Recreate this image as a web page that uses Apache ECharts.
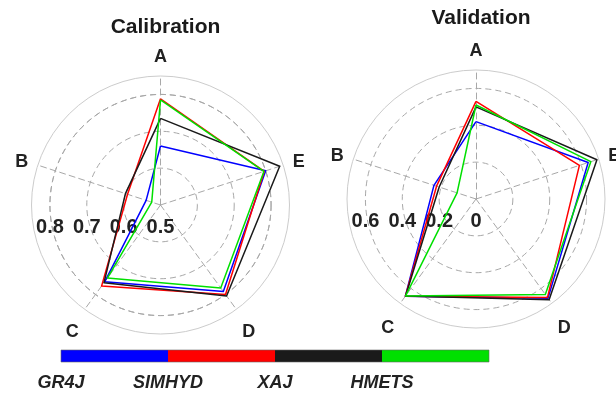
<!DOCTYPE html>
<html>
<head>
<meta charset="utf-8">
<script src="https://cdn.jsdelivr.net/npm/echarts@6/dist/echarts.min.js"></script>
<style>
  html, body { margin: 0; padding: 0; background: #ffffff; }
  #chart { width: 616px; height: 398px; }
</style>
</head>
<body>
<div id="chart"></div>
<script>
// Radar axes (counter-clockwise from the top)
const axes = ['A', 'B', 'C', 'D', 'E'];

// Hydrological models and their line colours
const models = ['GR4J', 'SIMHYD', 'XAJ', 'HMETS'];
const modelColors = ['#0000ff', '#ff0000', '#1a1a1a', '#00e000'];

// Calibration period scores (order A, B, C, D, E)
const calGR4J   = [0.660, 0.541, 0.757, 0.790, 0.800];
const calSIMHYD = [0.788, 0.594, 0.772, 0.800, 0.796];
const calXAJ    = [0.735, 0.600, 0.761, 0.805, 0.840];
const calHMETS  = [0.785, 0.525, 0.745, 0.778, 0.795];

// Validation period scores (order A, B, C, D, E)
const valGR4J   = [0.420, 0.240, 0.652, 0.665, 0.640];
const valSIMHYD = [0.530, 0.225, 0.652, 0.660, 0.590];
const valXAJ    = [0.500, 0.210, 0.650, 0.675, 0.690];
const valHMETS  = [0.510, 0.108, 0.650, 0.640, 0.655];

// Ring ticks
const calTicks = [0.5, 0.6, 0.7, 0.8];
const valTicks = [0, 0.2, 0.4, 0.6];

// Axis ranges (outer solid ring)
const calRange = [0.5, 0.85];
const valRange = [0, 0.7];

const panels = [
  { title: 'Calibration', center: [160.5, 205], titleTop: 12, range: calRange, ticks: calTicks,
    lowPad: 30, data: [calGR4J, calSIMHYD, calXAJ, calHMETS] },
  { title: 'Validation', center: [476, 199], titleTop: 3, range: valRange, ticks: valTicks,
    lowPad: 34, data: [valGR4J, valSIMHYD, valXAJ, valHMETS] }
];

const R = 129;
const FONT = 'Liberation Sans, Arial, sans-serif';
// Axis names on the lower half sit a little further out
const lowerNames = ['C', 'D'];

const option = {
  backgroundColor: '#ffffff',
  animation: false,
  title: panels.map(p => ({
    text: p.title,
    left: p.center[0], top: p.titleTop, textAlign: 'center',
    textStyle: { fontFamily: FONT, fontSize: 21, fontWeight: 'bold', color: '#1a1a1a' }
  })),
  radar: panels.map(p => ({
    center: p.center,
    radius: R,
    startAngle: 90,
    shape: 'circle',
    splitNumber: 1,
    nameGap: 10,
    indicator: axes.map(n => ({ name: n, min: p.range[0], max: p.range[1] })),
    axisName: {
      color: '#222', fontFamily: FONT, fontSize: 18, fontWeight: 'bold',
      formatter: n => (lowerNames.includes(n) ? '{low|' + n + '}' : n),
      rich: { low: { padding: [p.lowPad, 0, 0, 0], color: '#222', fontFamily: FONT, fontSize: 18, fontWeight: 'bold' } }
    },
    splitLine: { lineStyle: { color: '#cccccc', width: 1 } },
    splitArea: { show: false },
    axisLine: { lineStyle: { color: '#a8a8a8', width: 1, type: [6, 4] } },
    axisTick: { show: false },
    axisLabel: { show: false }
  })),
  // Dashed inner rings and their value labels, laid out to the left of the centre
  polar: panels.map(p => {
    const last = p.ticks[p.ticks.length - 1];
    return { center: p.center, radius: R * (last - p.range[0]) / (p.range[1] - p.range[0]) };
  }),
  angleAxis: panels.map((p, i) => ({
    polarIndex: i, startAngle: 180, type: 'value', min: 0, max: 360,
    axisLine: { show: false }, axisTick: { show: false }, axisLabel: { show: false },
    splitLine: { show: false }
  })),
  radiusAxis: panels.map((p, i) => ({
    polarIndex: i, type: 'value',
    min: p.ticks[0], max: p.ticks[p.ticks.length - 1],
    interval: p.ticks[1] - p.ticks[0],
    axisLine: { show: false }, axisTick: { show: false },
    axisLabel: {
      margin: 12, fontFamily: FONT, fontSize: 20, fontWeight: 'bold', color: '#222',
      formatter: v => (Math.abs(v) < 1e-9 ? '0' : v.toFixed(1))
    },
    splitLine: { show: true, lineStyle: { color: '#a8a8a8', width: 1, type: [6, 4] } }
  })),
  series: panels.map((p, i) => ({
    type: 'radar',
    radarIndex: i,
    symbol: 'none',
    data: p.data.map((vals, k) => ({
      name: models[k],
      value: vals,
      lineStyle: { color: modelColors[k], width: 1.5 },
      itemStyle: { color: modelColors[k] }
    }))
  })),
  // Colour key bar with model names below each segment start
  graphic: [
    ...models.map((m, k) => ({
      type: 'rect',
      shape: { x: 61 + k * 107, y: 350, width: 107, height: 12 },
      style: { fill: modelColors[k], stroke: null }
    })),
    {
      type: 'rect',
      shape: { x: 61, y: 350, width: 428, height: 12 },
      style: { fill: 'none', stroke: '#666', lineWidth: 0.6 }
    },
    ...models.map((m, k) => ({
      type: 'text',
      x: 61 + k * 107, y: 383,
      style: {
        text: m, fill: '#222', font: 'italic bold 18px ' + FONT,
        textAlign: 'center', textVerticalAlign: 'middle'
      }
    }))
  ]
};

const chart = echarts.init(document.getElementById('chart'), null, { renderer: 'canvas' });
chart.setOption(option);
</script>
</body>
</html>
